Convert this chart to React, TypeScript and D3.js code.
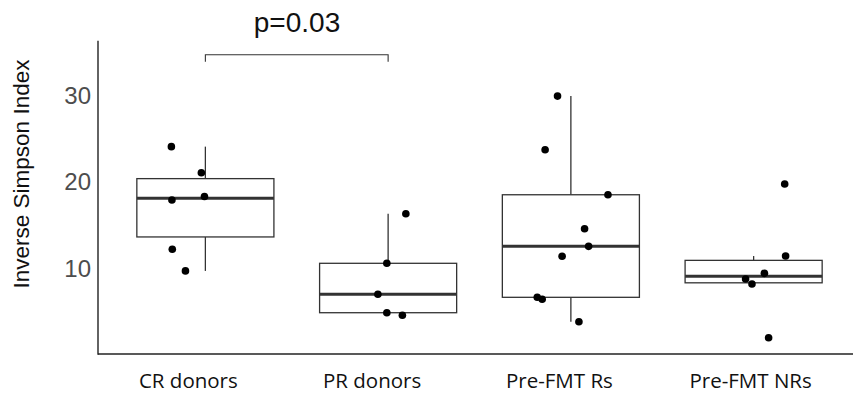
import * as d3 from "d3";

const W = 853;
const H = 394;

const categories = ["CR donors", "PR donors", "Pre-FMT Rs", "Pre-FMT NRs"];

// inverse simpson values per group
const crValues = [24.06, 21.05, 17.9, 18.3, 12.2, 9.7];
const prValues = [10.58, 16.3, 7.0, 4.87, 4.57];
const rsValues = [29.9, 23.7, 18.5, 14.58, 12.54, 11.39, 6.65, 6.42, 3.83];
const nrValues = [19.75, 11.42, 9.42, 8.76, 8.18, 1.98];

// horizontal jitter, as a fraction of the category step
const crJitter = [-0.186, -0.022, -0.183, -0.005, -0.181, -0.109];
const prJitter = [-0.007, 0.097, -0.056, -0.007, 0.078];
const rsJitter = [-0.073, -0.141, 0.203, 0.075, 0.097, -0.048, -0.184, -0.157, 0.044];
const nrJitter = [0.17, 0.175, 0.059, -0.044, -0.009, 0.082];

const yTicks = [10, 20, 30];
const pLabel = "p=0.03";
const compared = ["CR donors", "PR donors"];

const groups = [
  { name: categories[0], values: crValues, jitter: crJitter },
  { name: categories[1], values: prValues, jitter: prJitter },
  { name: categories[2], values: rsValues, jitter: rsJitter },
  { name: categories[3], values: nrValues, jitter: nrJitter },
];

function boxStats(values: number[]) {
  const s = [...values].sort(d3.ascending);
  const q1 = d3.quantile(s, 0.25)!;
  const med = d3.quantile(s, 0.5)!;
  const q3 = d3.quantile(s, 0.75)!;
  const iqr = q3 - q1;
  const inRange = s.filter((v) => v >= q1 - 1.5 * iqr && v <= q3 + 1.5 * iqr);
  return { q1, med, q3, lo: d3.min(inRange)!, hi: d3.max(inRange)! };
}

export default function App() {
  const left = 98;
  const bottom = 354;
  const top = 40.7;

  const x = d3.scaleBand<string>().domain(categories).range([114, 845]).padding(0);
  const y = d3.scaleLinear().domain([0.1, 36.3]).range([bottom, top]);
  const step = x.step();
  const boxW = step * 0.75;
  const cx = (c: string) => x(c)! + x.bandwidth() / 2;

  // the category labels sit a little left of their boxes in the original
  const labelShift = [-17, -16, -11.5, -3];

  const boxColor = "#333333";
  const font = "'Liberation Sans', Arial, sans-serif";

  const bx1 = cx(compared[0]);
  const bx2 = cx(compared[1]);

  return (
    <svg
      width={W}
      height={H}
      style={{ position: "absolute", left: 0, top: 0, background: "#fff" }}
    >
      {/* y axis title */}
      <text
        transform={`translate(21, 174) rotate(-90)`}
        textAnchor="middle"
        dominantBaseline="central"
        fontFamily={font}
        fontSize={22.5}
        fill="#111"
      >
        Inverse Simpson Index
      </text>

      {/* y tick labels */}
      {yTicks.map((t) => (
        <text
          key={t}
          x={91}
          y={y(t)}
          textAnchor="end"
          dominantBaseline="central"
          fontFamily={font}
          fontSize={24}
          fill="#4d4d4d"
        >
          {t}
        </text>
      ))}

      {/* boxes */}
      {groups.map((g) => {
        const st = boxStats(g.values);
        const c = cx(g.name);
        return (
          <g key={g.name}>
            <line x1={c} x2={c} y1={y(st.q3)} y2={y(st.hi)} stroke={boxColor} strokeWidth={1.3} />
            <line x1={c} x2={c} y1={y(st.q1)} y2={y(st.lo)} stroke={boxColor} strokeWidth={1.3} />
            <rect
              x={c - boxW / 2}
              y={y(st.q3)}
              width={boxW}
              height={y(st.q1) - y(st.q3)}
              fill="#fff"
              stroke={boxColor}
              strokeWidth={1.3}
            />
            <line
              x1={c - boxW / 2}
              x2={c + boxW / 2}
              y1={y(st.med)}
              y2={y(st.med)}
              stroke={boxColor}
              strokeWidth={3}
            />
          </g>
        );
      })}

      {/* jittered points */}
      {groups.map((g) =>
        g.values.map((v, i) => (
          <circle
            key={g.name + i}
            cx={cx(g.name) + g.jitter[i] * step}
            cy={y(v)}
            r={3.8}
            fill="#000"
          />
        ))
      )}

      {/* axes */}
      <line x1={left} x2={left} y1={top} y2={bottom + 0.7} stroke="#222" strokeWidth={1.4} />
      <line x1={left} x2={W} y1={bottom} y2={bottom} stroke="#222" strokeWidth={1.4} />

      {/* x labels */}
      {categories.map((c, i) => (
        <text
          key={c}
          x={cx(c) + labelShift[i]}
          y={388}
          textAnchor="middle"
          fontFamily="'Open Sans', sans-serif"
          fontSize={20.5}
          fill="#111"
        >
          {c}
        </text>
      ))}

      {/* significance bracket */}
      <path
        d={`M${bx1},61.7V54.7H${bx2}V61.7`}
        fill="none"
        stroke="#333"
        strokeWidth={1.1}
      />
      <text
        x={297}
        y={32}
        textAnchor="middle"
        fontFamily={font}
        fontSize={28}
        fill="#111"
      >
        {pLabel}
      </text>
    </svg>
  );
}
